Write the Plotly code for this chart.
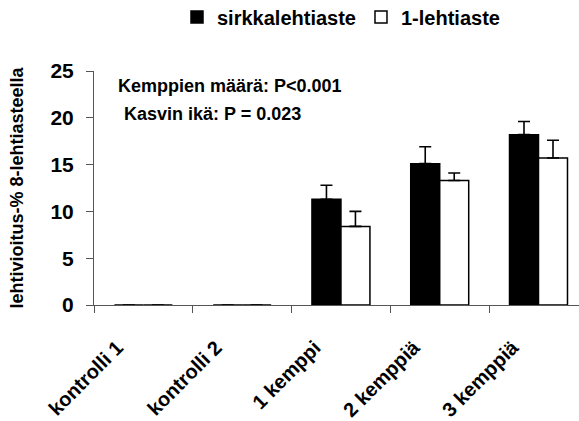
import plotly.graph_objects as go

categories = ["kontrolli 1", "kontrolli 2", "1 kemppi", "2 kemppiä", "3 kemppiä"]
sirkka_vals = [0, 0, 11.3, 15.1, 18.2]
sirkka_err = [0, 0, 1.5, 1.8, 1.4]
lehti1_vals = [0, 0, 8.4, 13.3, 15.7]
lehti1_err = [0, 0, 1.6, 0.8, 1.9]
y_ticks = [0, 5, 10, 15, 20, 25]

FONT = "Liberation Sans, Arial, sans-serif"
W, H = 579, 421
L, R, T, B = 94, 0, 71, 116

fig = go.Figure()
fig.add_trace(go.Bar(
    x=categories, y=sirkka_vals, name="sirkkalehtiaste",
    marker=dict(color="black", line=dict(color="black", width=1.5)),
    error_y=dict(type="data", array=sirkka_err, arrayminus=[0]*5, symmetric=False,
                 color="black", thickness=1.6, width=6),
))
fig.add_trace(go.Bar(
    x=categories, y=lehti1_vals, name="1-lehtiaste",
    marker=dict(color="white", line=dict(color="black", width=1.5)),
    error_y=dict(type="data", array=lehti1_err, arrayminus=[0]*5, symmetric=False,
                 color="black", thickness=1.6, width=6),
))

pw = W - L - R
ph = H - T - B

def px2paper(px, py):
    return (px - L) / pw, 1 - (py - T) / ph

a1x, a1y = px2paper(116, 86)
a2x, a2y = px2paper(122, 114)

fig.update_layout(
    width=W, height=H,
    margin=dict(l=L, r=R, t=T, b=B),
    paper_bgcolor="white", plot_bgcolor="white",
    barmode="group", bargap=0.413, bargroupgap=0,
    font=dict(family=FONT, color="black", weight="bold"),
    showlegend=True,
    legend=dict(orientation="h", xref="container", yref="container",
                x=341 / W, xanchor="center", y=1 - 17 / H, yanchor="middle",
                font=dict(size=20, family=FONT, weight="bold"),
                itemwidth=30, traceorder="normal", bgcolor="rgba(0,0,0,0)"),
    xaxis=dict(
        type="category", tickson="boundaries", ticks="outside", ticklen=7,
        tickcolor="#555", showline=True, linecolor="#555", linewidth=1,
        tickangle=-45, tickfont=dict(size=20, family=FONT, weight="bold"),
        ticklabelstandoff=22, ticklabelshift=-26,
        showgrid=False, range=[-0.5, 4.41],
    ),
    yaxis=dict(
        range=[0, 25], tickvals=y_ticks, ticks="outside", ticklen=7,
        tickcolor="#555", showline=True, linecolor="#555", linewidth=1,
        showgrid=False, zeroline=False, ticklabelstandoff=8,
        tickfont=dict(size=21, family=FONT, weight="bold"),
        title=dict(text="lehtivioitus-% 8-lehtiasteella",
                   font=dict(size=18, family=FONT, weight="bold"), standoff=22),
    ),
    annotations=[
        dict(text="Kemppien määrä: P<0.001", x=a1x, y=a1y, xref="paper", yref="paper",
             xanchor="left", yanchor="middle", showarrow=False,
             font=dict(size=18, family=FONT, weight="bold", color="black")),
        dict(text="Kasvin ikä: P = 0.023", x=a2x, y=a2y, xref="paper", yref="paper",
             xanchor="left", yanchor="middle", showarrow=False,
             font=dict(size=18, family=FONT, weight="bold", color="black")),
    ],
)

fig.write_html("out.html")
